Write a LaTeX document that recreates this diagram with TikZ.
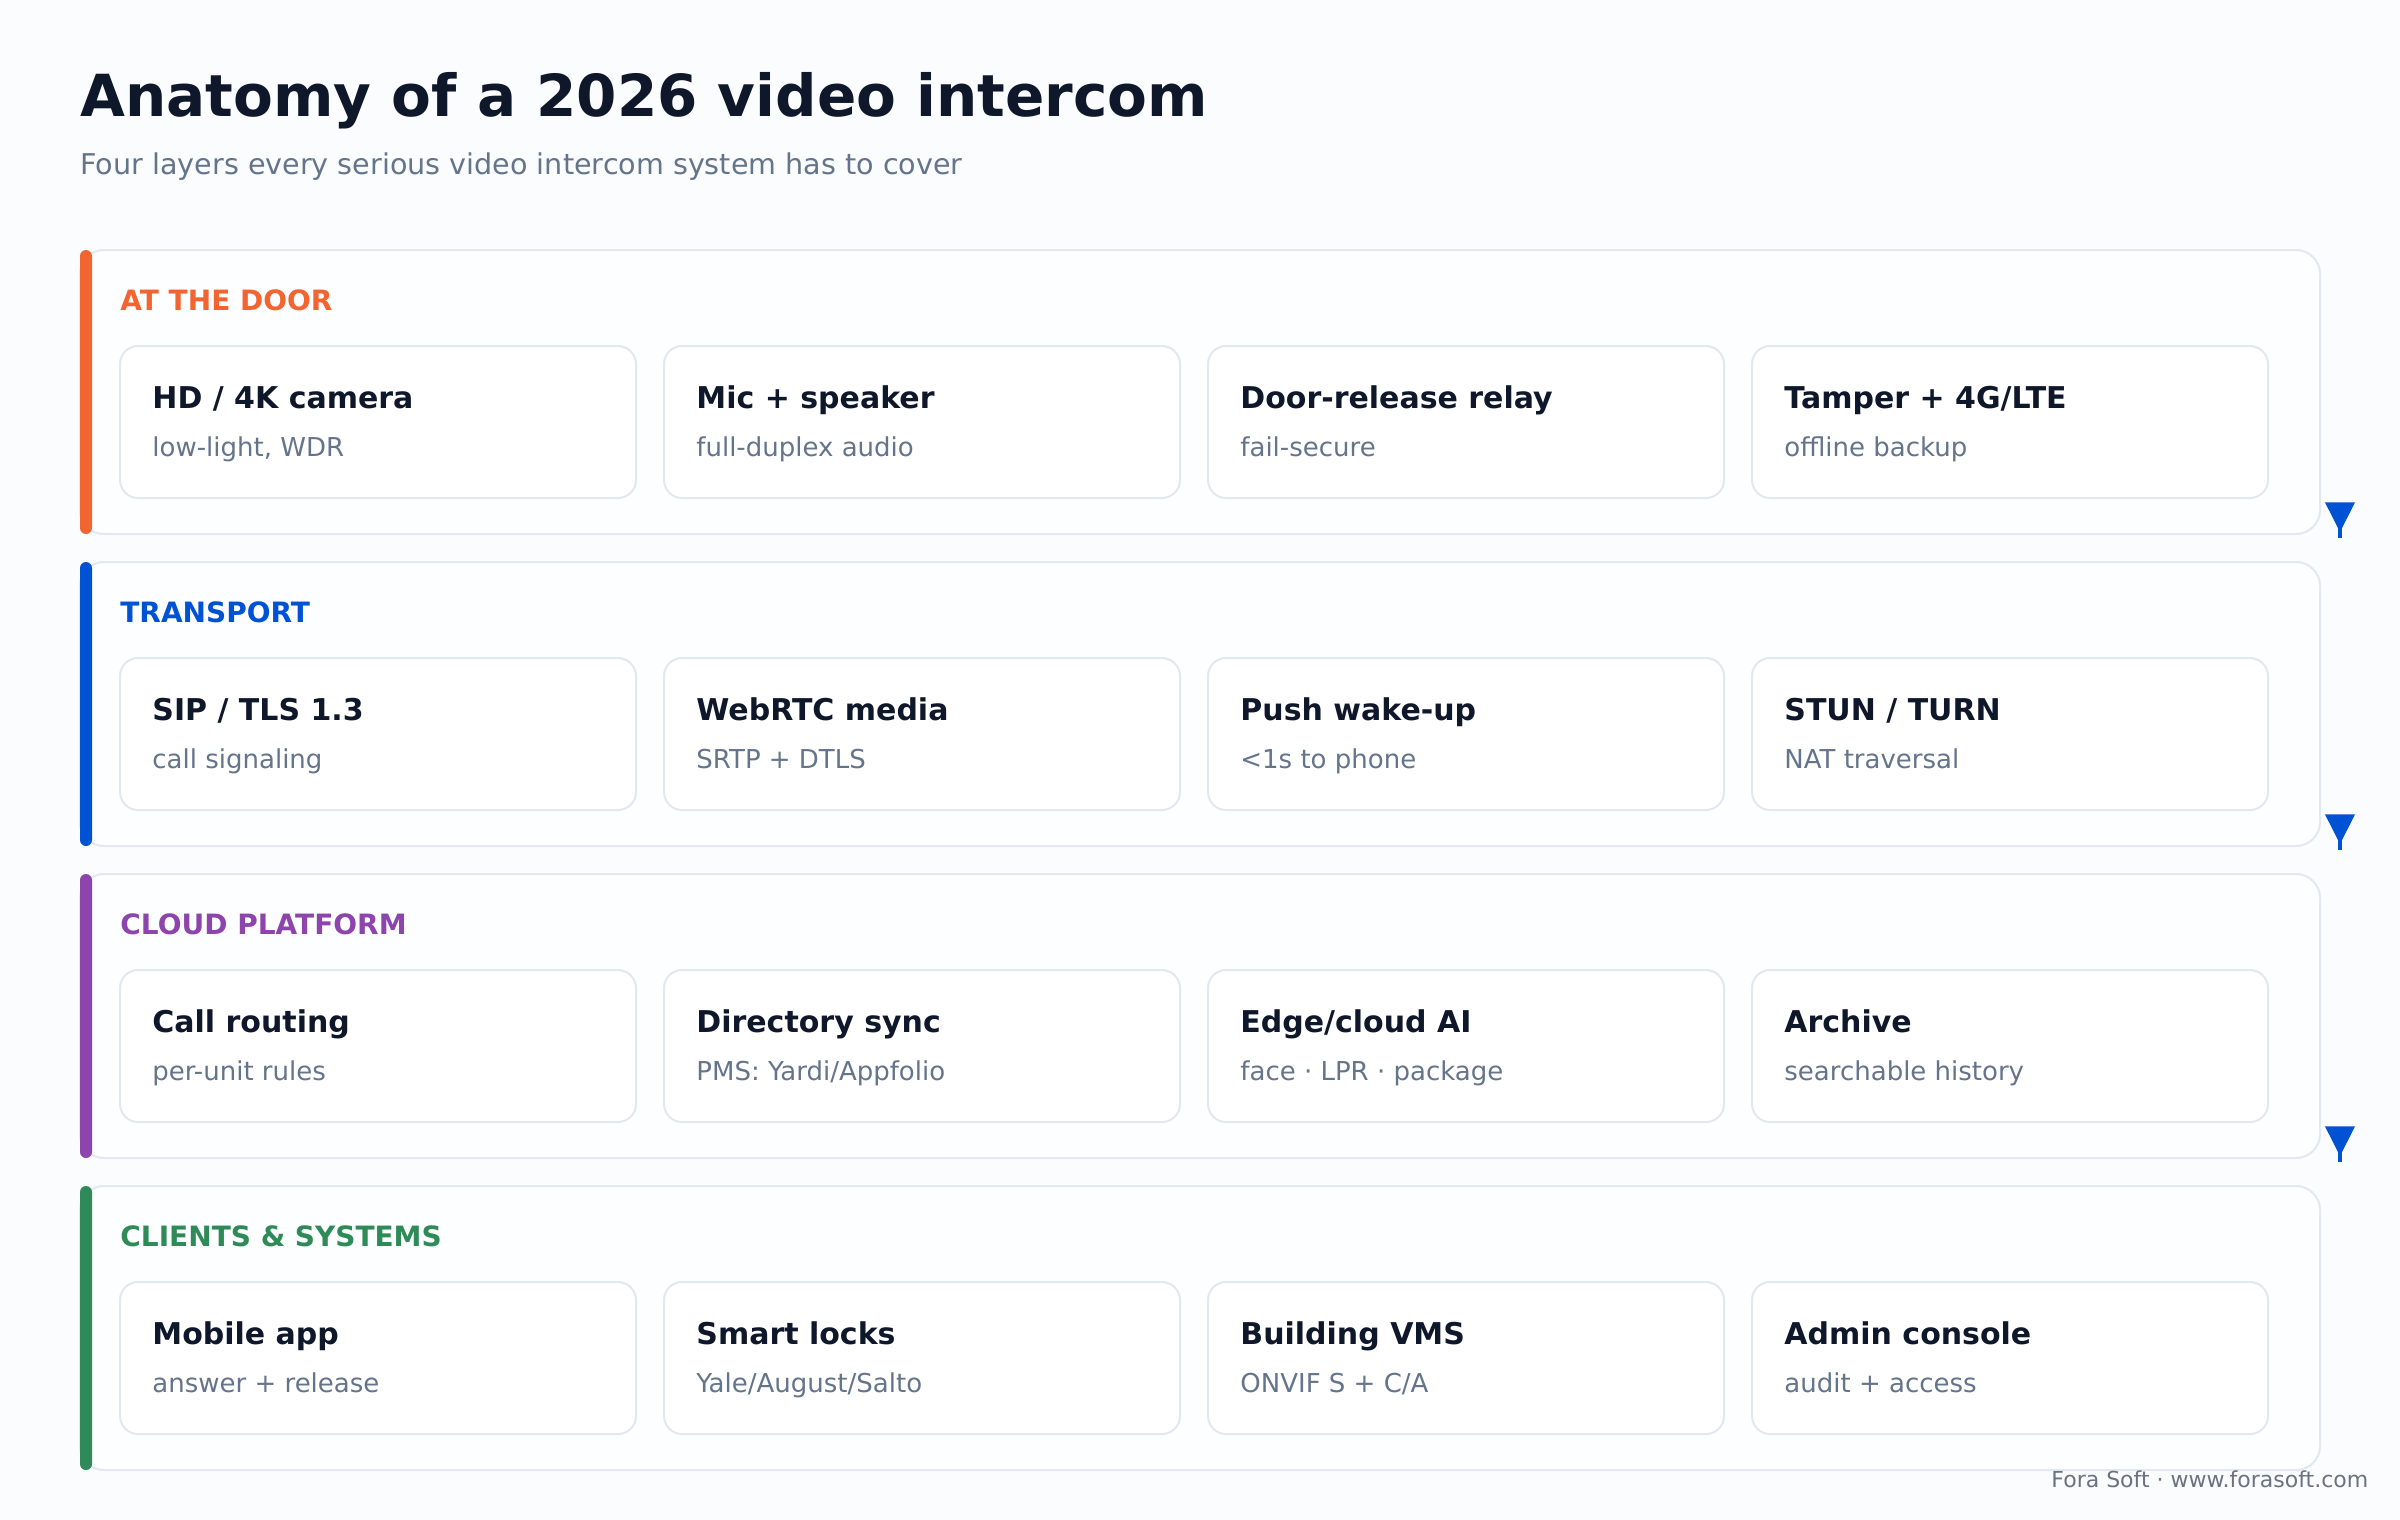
\documentclass[tikz,border=0pt]{standalone}
\usepackage{fontspec}
\setmainfont{DejaVu Sans}
\usetikzlibrary{calc}
\definecolor{bg}{HTML}{FBFCFD}
\definecolor{panel}{HTML}{FDFEFF}
\definecolor{edge}{HTML}{E2E8F0}
\definecolor{ink}{HTML}{0F172A}
\definecolor{muted}{HTML}{64748B}
\definecolor{foot}{HTML}{6B7280}
\definecolor{cOrange}{HTML}{F26430}
\definecolor{cBlue}{HTML}{0052D4}
\definecolor{cPurple}{HTML}{8E44AD}
\definecolor{cGreen}{HTML}{2E8B57}
\newcommand\IcCard[4]{%
  \pgfmathsetmacro\cx{60+#2*272}%
  \pgfmathsetmacro\cy{125+#1*156+48}%
  \node[card] (c#1#2) at (\cx,\cy) {};
  \node[ctitle] (c#1#2t) at (\cx+16,\cy+31) {#3};
  \node[csub] (c#1#2s) at (\cx+16,\cy+55) {#4};
}
\newcommand\IcLayer[3]{%
  \pgfmathsetmacro\ly{125+#1*156}%
  \node[layer] (L#1) at (40,\ly) {};
  \fill[#3, rounded corners=3] (40,\ly) rectangle (46,\ly+142);
  \node[lab, text=#3] (L#1lab) at (60,\ly+30) {#2};
}
\newcommand\IcArrow[1]{%
  \pgfmathsetmacro\by{125+#1*156+142}%
  \coordinate (a#1s) at (1170,\by-5);
  \coordinate (a#1e) at (1170,\by+1.8);
  \draw[cBlue, line width=2.3] (a#1s) -- (a#1e);
  \fill[cBlue] (1162.5,\by-15.8) -- (1177.5,\by-15.8) -- (1170,\by-1) -- cycle;
}
\begin{document}
\begin{tikzpicture}[x=1pt,y=-1pt,
  layer/.style={draw=edge, line width=1, fill=panel, rounded corners=12,
    minimum width=1120, minimum height=142, anchor=north west, inner sep=0, outer sep=0},
  card/.style={draw=edge, line width=1, fill=white, rounded corners=9,
    minimum width=258, minimum height=76, anchor=north west, inner sep=0, outer sep=0},
  ctitle/.style={anchor=base west, inner sep=0, text=ink, font=\fontsize{15}{18}\selectfont\bfseries},
  csub/.style={anchor=base west, inner sep=0, text=muted, font=\fontsize{13}{16}\selectfont},
  lab/.style={anchor=base west, inner sep=0, font=\fontsize{14}{17}\selectfont\bfseries},
]
\useasboundingbox[fill=bg] (0,0) rectangle (1200,760);
\node[anchor=base west, inner sep=0, text=ink, font=\fontsize{29}{34}\selectfont\bfseries] (title) at (40,58.3) {Anatomy of a 2026 video intercom};
\node[anchor=base west, inner sep=0, text=muted, font=\fontsize{14.3}{17}\selectfont] (subtitle) at (40,87.5) {Four layers every serious video intercom system has to cover};

\IcLayer{0}{AT THE DOOR}{cOrange}
\IcLayer{1}{TRANSPORT}{cBlue}
\IcLayer{2}{CLOUD PLATFORM}{cPurple}
\IcLayer{3}{CLIENTS \& SYSTEMS}{cGreen}

\IcCard{0}{0}{HD / 4K camera}{low-light, WDR}
\IcCard{0}{1}{Mic + speaker}{full-duplex audio}
\IcCard{0}{2}{Door-release relay}{fail-secure}
\IcCard{0}{3}{Tamper + 4G/LTE}{offline backup}

\IcCard{1}{0}{SIP / TLS 1.3}{call signaling}
\IcCard{1}{1}{WebRTC media}{SRTP + DTLS}
\IcCard{1}{2}{Push wake-up}{<1s to phone}
\IcCard{1}{3}{STUN / TURN}{NAT traversal}

\IcCard{2}{0}{Call routing}{per-unit rules}
\IcCard{2}{1}{Directory sync}{PMS: Yardi/Appfolio}
\IcCard{2}{2}{Edge/cloud AI}{face · LPR · package}
\IcCard{2}{3}{Archive}{searchable history}

\IcCard{3}{0}{Mobile app}{answer + release}
\IcCard{3}{1}{Smart locks}{Yale/August/Salto}
\IcCard{3}{2}{Building VMS}{ONVIF S + C/A}
\IcCard{3}{3}{Admin console}{audit + access}

\IcArrow{0}
\IcArrow{1}
\IcArrow{2}

\node[anchor=base east, inner sep=0, text=foot, font=\fontsize{11}{13}\selectfont] (footer) at (1184.3,743.8) {Fora Soft · www.forasoft.com};
\end{tikzpicture}
\end{document}
